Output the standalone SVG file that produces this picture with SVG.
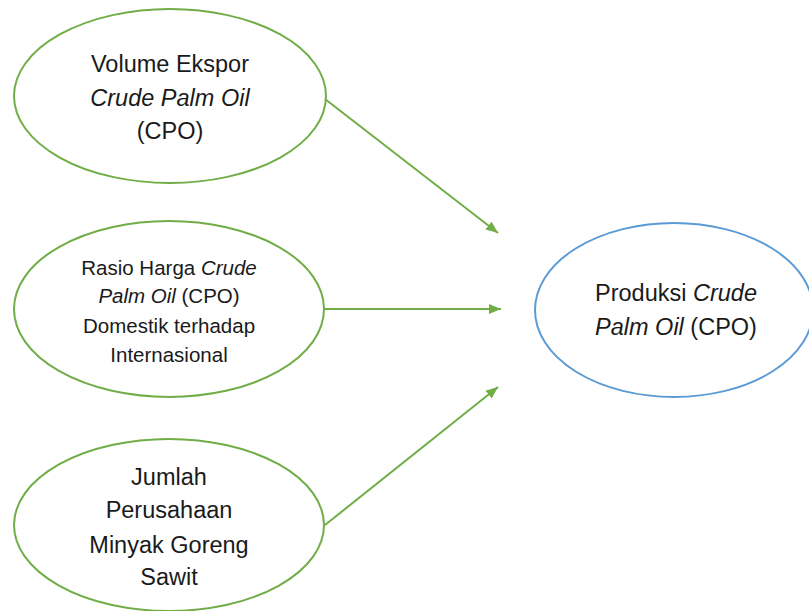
<svg xmlns="http://www.w3.org/2000/svg" width="809" height="611" viewBox="0 0 809 611">
<defs>
<marker id="arr" viewBox="0 0 12 10" refX="12" refY="5" markerWidth="12" markerHeight="10" markerUnits="userSpaceOnUse" orient="auto">
<path d="M0,0 L12,5 L0,10 z" fill="#70AD47"/>
</marker>
</defs>
<style>
.g{fill:#fff;stroke:#70AD47;stroke-width:2}
.b{fill:#fff;stroke:#5B9BD5;stroke-width:2}
text{font-family:"Liberation Sans",Arial,sans-serif;fill:#1a1a1a;text-anchor:middle}
.t1{font-size:23.5px}
.t2{font-size:20.5px}
.i{font-style:italic}
.c{stroke:#70AD47;stroke-width:2;fill:none;marker-end:url(#arr)}
</style>
<rect width="809" height="611" fill="#fff"/>
<g id="n1">
<ellipse class="g" cx="170" cy="96" rx="156" ry="87"/>
<text class="t1" x="170" y="72">Volume Ekspor</text>
<text class="t1 i" x="170" y="106">Crude Palm Oil</text>
<text class="t1" x="170" y="139">(CPO)</text>
</g>
<g id="n2">
<ellipse class="g" cx="169" cy="309" rx="155" ry="88"/>
<text class="t2" x="169" y="275">Rasio Harga <tspan class="i">Crude</tspan></text>
<text class="t2" x="169" y="303"><tspan class="i">Palm Oil</tspan> (CPO)</text>
<text class="t2" x="169" y="333">Domestik terhadap</text>
<text class="t2" x="169" y="362">Internasional</text>
</g>
<g id="n3">
<ellipse class="g" cx="169" cy="525" rx="155" ry="86"/>
<text class="t1" x="169" y="485">Jumlah</text>
<text class="t1" x="169" y="518">Perusahaan</text>
<text class="t1" x="169" y="553">Minyak Goreng</text>
<text class="t1" x="169" y="585">Sawit</text>
</g>
<g id="n4">
<ellipse class="b" cx="674" cy="310" rx="139" ry="87"/>
<text class="t1" x="676" y="301">Produksi <tspan class="i">Crude</tspan></text>
<text class="t1" x="676" y="335"><tspan class="i">Palm Oil</tspan> (CPO)</text>
</g>
<g id="connectors">
<line class="c" x1="325" y1="99" x2="498" y2="233"/>
<line class="c" x1="324" y1="309" x2="501" y2="309"/>
<line class="c" x1="325" y1="525" x2="498" y2="387"/>
</g>
</svg>
